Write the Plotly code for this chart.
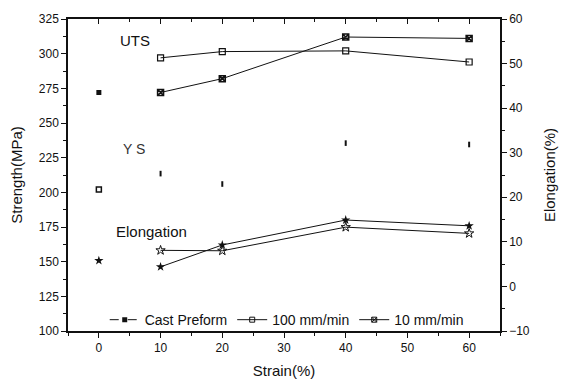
import plotly.graph_objects as go

# ---- data ----
strain_cast = [0]
uts_cast = [272]
ys_cast = [202]
el_cast = [5.8]

strain = [10, 20, 40, 60]
uts_100 = [297, 301.5, 302, 294]
uts_10 = [272, 282, 312, 311]
ys_10 = [213.5, 206, 235.5, 234.5]
el_100 = [8.1, 8.0, 13.3, 11.9]
el_10 = [4.4, 9.3, 14.9, 13.6]

x_ticks = [0, 10, 20, 30, 40, 50, 60]
left_ticks = [100, 125, 150, 175, 200, 225, 250, 275, 300, 325]
right_ticks = [-10, 0, 10, 20, 30, 40, 50, 60]

FONT = "Liberation Sans, Arial, sans-serif"
BLK = "#111111"

fig = go.Figure()

# UTS
fig.add_trace(go.Scatter(x=strain_cast, y=uts_cast, mode="markers",
                         marker=dict(symbol="square", size=5, color=BLK),
                         showlegend=False))
fig.add_trace(go.Scatter(x=strain, y=uts_100, mode="lines+markers",
                         line=dict(color=BLK, width=1),
                         marker=dict(symbol="square-open", size=6, color=BLK, line=dict(width=1.2)),
                         showlegend=False))
fig.add_trace(go.Scatter(x=strain, y=uts_10, mode="lines+markers",
                         line=dict(color=BLK, width=1),
                         marker=dict(symbol="square-x-open", size=6, color=BLK, line=dict(width=1.5)),
                         showlegend=False))
# YS
fig.add_trace(go.Scatter(x=strain_cast, y=ys_cast, mode="markers",
                         marker=dict(symbol="square-open", size=5, color=BLK, line=dict(width=1.5)),
                         showlegend=False))
fig.add_trace(go.Scatter(x=strain, y=ys_10, mode="markers",
                         marker=dict(symbol="line-ns-open", size=4, color=BLK, line=dict(width=2)),
                         showlegend=False))
# Elongation (right axis)
fig.add_trace(go.Scatter(x=strain_cast, y=el_cast, mode="markers", yaxis="y2",
                         marker=dict(symbol="star", size=7, color=BLK),
                         showlegend=False))
fig.add_trace(go.Scatter(x=strain, y=el_100, mode="lines+markers", yaxis="y2",
                         line=dict(color=BLK, width=1),
                         marker=dict(symbol="star-open", size=7, color=BLK, line=dict(width=1)),
                         showlegend=False))
fig.add_trace(go.Scatter(x=strain, y=el_10, mode="lines+markers", yaxis="y2",
                         line=dict(color=BLK, width=1),
                         marker=dict(symbol="star", size=7, color=BLK),
                         showlegend=False))

# legend entries
fig.add_trace(go.Scatter(x=[None], y=[None], mode="lines+markers", name="Cast Preform",
                         line=dict(color=BLK, width=1, dash="dash"),
                         marker=dict(symbol="square", size=5, color=BLK)))
fig.add_trace(go.Scatter(x=[None], y=[None], mode="lines+markers", name="100 mm/min",
                         line=dict(color=BLK, width=1),
                         marker=dict(symbol="square-open", size=5, color=BLK)))
fig.add_trace(go.Scatter(x=[None], y=[None], mode="lines+markers", name="10 mm/min",
                         line=dict(color=BLK, width=1),
                         marker=dict(symbol="square-x-open", size=5, color=BLK)))

# invisible trace on top axis to keep it drawn
fig.add_trace(go.Scatter(x=[None], y=[None], xaxis="x2", showlegend=False, hoverinfo="skip"))

tickfont = dict(family=FONT, size=12, color=BLK)
titlefont = dict(family=FONT, size=15, color=BLK)

fig.update_layout(
    width=568, height=389,
    margin=dict(l=68, r=65, t=17, b=51),
    paper_bgcolor="white", plot_bgcolor="white",
    font=dict(family=FONT, color=BLK),
    xaxis=dict(range=[-5, 65], tickvals=x_ticks, ticks="outside", ticklen=5, tickwidth=1,
               tickcolor=BLK, showline=True, linecolor=BLK, linewidth=1.5, showgrid=False,
               zeroline=False, tickfont=tickfont,
               minor=dict(dtick=5, tick0=0, ticks="outside", ticklen=3, tickcolor=BLK),
               title=dict(text="Strain(%)", font=titlefont, standoff=11)),
    xaxis2=dict(range=[-5, 65], overlaying="x", side="top", anchor="y", tickvals=x_ticks,
                ticks="inside", ticklen=5, tickcolor=BLK, showticklabels=False,
                showline=True, linecolor=BLK, linewidth=1.5, showgrid=False, zeroline=False,
                minor=dict(dtick=5, tick0=0, ticks="inside", ticklen=3, tickcolor=BLK)),
    yaxis=dict(range=[100, 325], tickvals=left_ticks, ticks="outside", ticklen=5,
               tickcolor=BLK, showline=True, linecolor=BLK, linewidth=1.5, showgrid=False,
               zeroline=False, tickfont=tickfont,
               minor=dict(dtick=12.5, tick0=100, ticks="outside", ticklen=3, tickcolor=BLK),
               title=dict(text="Strength(MPa)", font=titlefont, standoff=13)),
    yaxis2=dict(range=[-10, 60], overlaying="y", side="right", tickvals=right_ticks,
                ticks="outside", ticklen=5, tickcolor=BLK, showline=True, linecolor=BLK,
                linewidth=1.5, showgrid=False, zeroline=False, tickfont=tickfont,
                minor=dict(dtick=5, tick0=-10, ticks="outside", ticklen=3, tickcolor=BLK),
                title=dict(text="Elongation(%)", font=titlefont, standoff=16)),
    legend=dict(orientation="h", x=0.085, y=0.035, xanchor="left", yanchor="middle",
                bgcolor="rgba(0,0,0,0)", font=dict(family=FONT, size=14, color=BLK),
                itemwidth=30, tracegroupgap=0),
    annotations=[
        dict(x=5.8, y=309.7, xref="x", yref="y", text="UTS", showarrow=False,
             font=dict(family=FONT, size=15, color=BLK)),
        dict(x=5.7, y=231, xref="x", yref="y", text="Y S", showarrow=False,
             font=dict(family=FONT, size=14, color="#333333")),
        dict(x=8.5, y=172, xref="x", yref="y", text="Elongation", showarrow=False,
             font=dict(family=FONT, size=15, color=BLK)),
    ],
)

fig.write_html("out.html")
